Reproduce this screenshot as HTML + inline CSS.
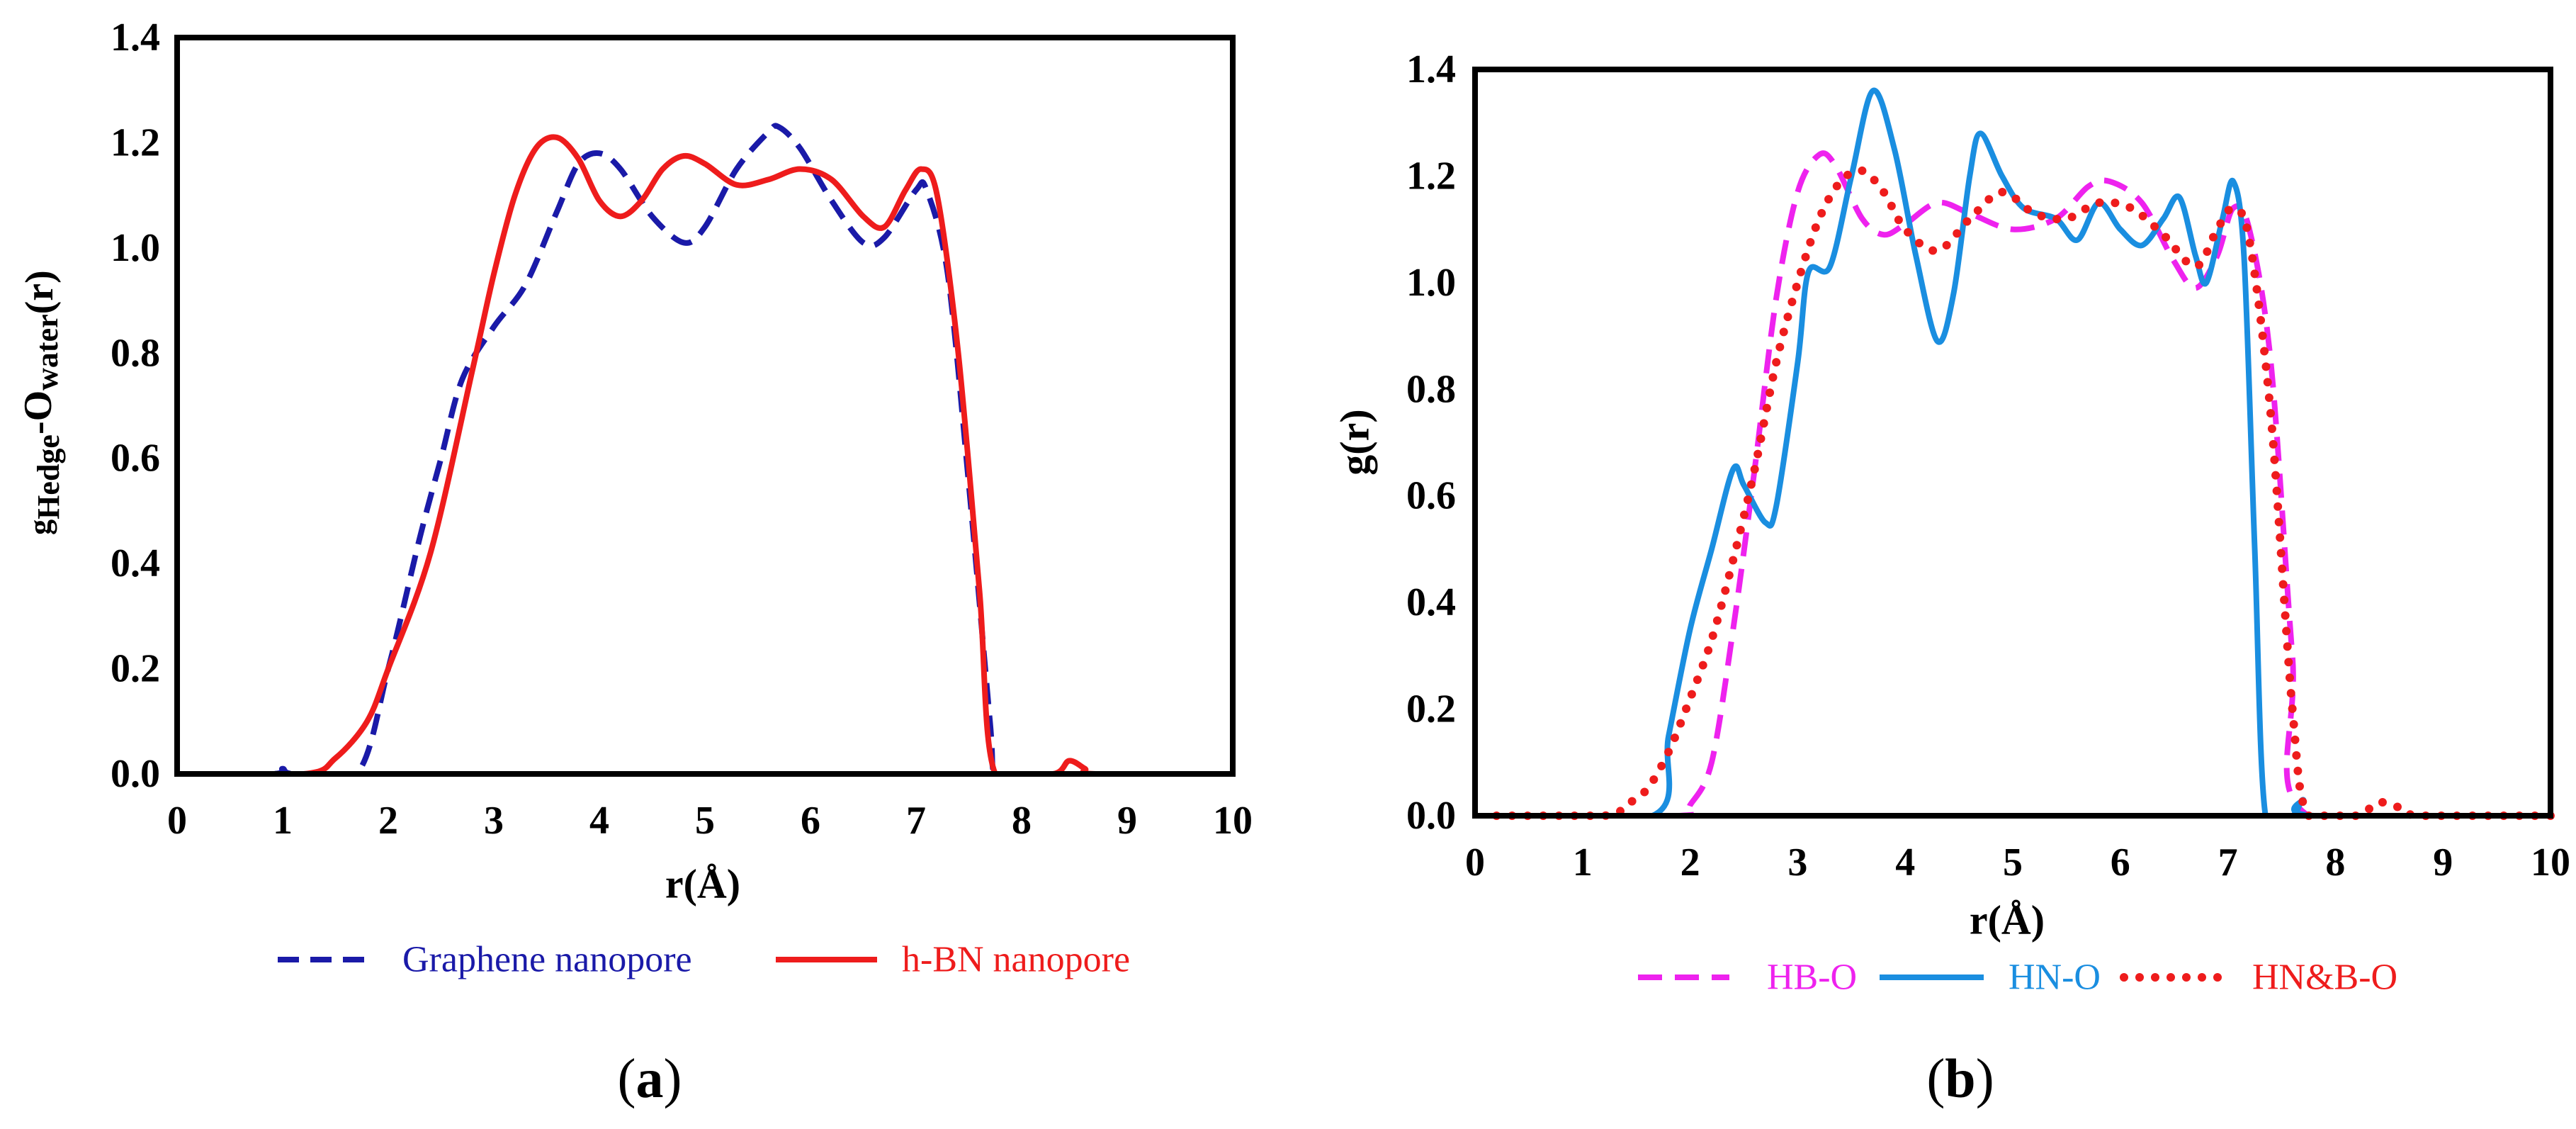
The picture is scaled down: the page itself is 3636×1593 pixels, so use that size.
<!DOCTYPE html>
<html><head><meta charset="utf-8"><style>
html,body{margin:0;padding:0;background:#fff;}
svg{display:block;font-family:"Liberation Serif",serif;}
</style></head><body>
<svg id="fig" width="3636" height="1593" viewBox="0 0 3636 1593" xmlns="http://www.w3.org/2000/svg"></svg>
<script>
const xTicks=[0,1,2,3,4,5,6,7,8,9,10];
const yTicks=[0.0,0.2,0.4,0.6,0.8,1.0,1.2,1.4];
const grapheneX=[0,0.9,1.0,1.1,1.7,2.0,2.3,2.5,2.7,3.0,3.3,3.6,3.8,4.0,4.2,4.5,4.8,5.0,5.3,5.6,5.7,5.9,6.2,6.5,6.7,7.0,7.1,7.3,7.5,7.7,7.75,8,10];
const grapheneY=[0,0,0.01,0,0,0.2,0.45,0.6,0.75,0.85,0.93,1.07,1.16,1.18,1.15,1.06,1.01,1.04,1.15,1.22,1.23,1.19,1.09,1.01,1.02,1.11,1.11,0.95,0.55,0.1,0,0,0];
const hbnX=[0,1.2,1.5,1.8,2.0,2.4,2.8,3.0,3.2,3.4,3.6,3.8,4.0,4.2,4.4,4.6,4.8,5.0,5.3,5.6,5.9,6.2,6.5,6.7,6.9,7.05,7.2,7.4,7.6,7.75,8.3,8.45,8.6,8.7,10];
const hbnY=[0,0,0.03,0.1,0.2,0.42,0.77,0.95,1.1,1.19,1.21,1.17,1.09,1.06,1.09,1.15,1.175,1.16,1.12,1.13,1.15,1.13,1.06,1.04,1.11,1.15,1.1,0.8,0.35,0,0,0.025,0.01,0,0];
const hboX=[0.1,1.9,2.0,2.2,2.4,2.6,2.8,3.0,3.2,3.35,3.6,3.8,4.0,4.3,4.6,5.0,5.4,5.7,5.9,6.2,6.5,6.7,6.9,7.05,7.2,7.4,7.6,7.75,10];
const hboY=[0,0,0.02,0.1,0.35,0.65,0.97,1.17,1.24,1.22,1.12,1.09,1.11,1.15,1.13,1.10,1.12,1.18,1.19,1.15,1.04,0.99,1.05,1.14,1.1,0.85,0.3,0,0];
const hnoX=[0.1,1.65,1.8,2.0,2.2,2.4,2.5,2.7,2.8,3.0,3.1,3.3,3.5,3.7,3.9,4.1,4.3,4.45,4.6,4.7,4.9,5.1,5.4,5.6,5.8,6.0,6.2,6.4,6.55,6.7,6.8,6.95,7.05,7.15,7.25,7.35,7.6,7.7,7.8,10];
const hnoY=[0,0,0.15,0.35,0.5,0.65,0.62,0.55,0.58,0.85,1.02,1.03,1.2,1.36,1.25,1.05,0.89,0.98,1.2,1.28,1.2,1.14,1.12,1.08,1.15,1.1,1.07,1.12,1.16,1.05,1.0,1.12,1.19,1.05,0.5,0,0,0.03,0,0];
const hnbX=[0.2,1.2,1.4,1.6,1.8,2.0,2.2,2.4,2.6,2.8,3.0,3.2,3.4,3.6,3.8,4.0,4.3,4.6,4.9,5.2,5.5,5.8,6.1,6.4,6.7,6.9,7.05,7.2,7.4,7.6,7.75,8.2,8.4,8.6,8.8,10];
const hnbY=[0,0,0.02,0.05,0.12,0.22,0.33,0.48,0.65,0.85,1.0,1.12,1.19,1.21,1.17,1.1,1.06,1.12,1.17,1.13,1.12,1.15,1.14,1.09,1.03,1.1,1.14,1.08,0.75,0.2,0,0,0.025,0.015,0,0];

const NS="http://www.w3.org/2000/svg";
const svg=document.getElementById('fig');
function mk(tag,attrs,parent){const e=document.createElementNS(NS,tag);for(const k in attrs)e.setAttribute(k,attrs[k]);(parent||svg).appendChild(e);return e;}
function axes(L,R,T,B){return {x:v=>L+(R-L)*v/10,y:v=>B-(B-T)*v/1.4};}
function smooth(xs,ys,ax){
  const p=xs.map((x,i)=>[ax.x(x),ax.y(ys[i])]);
  let d='M'+p[0][0]+','+p[0][1];
  for(let i=0;i<p.length-1;i++){
    const p0=p[i-1]||p[i],p1=p[i],p2=p[i+1],p3=p[i+2]||p2;
    const t=0.16;
    let c1y=p1[1]+(p2[1]-p0[1])*t, c2y=p2[1]-(p3[1]-p1[1])*t;
    const lo=ax.y(0);c1y=Math.min(c1y,lo);c2y=Math.min(c2y,lo);
    d+=' C'+(p1[0]+(p2[0]-p0[0])*t)+','+c1y+' '+(p2[0]-(p3[0]-p1[0])*t)+','+c2y+' '+p2[0]+','+p2[1];
  }
  return d;
}
function frame(g,L,R,T,B,ax,lblRight,xlY){
  const f=mk('rect',{x:L,y:T,width:R-L,height:B-T,fill:'none',stroke:'#000','stroke-width':8},g);
  
  
  xTicks.forEach(v=>{const t=mk('text',{x:ax.x(v),y:xlY,'font-size':56,'font-weight':'bold','text-anchor':'middle','dominant-baseline':'central'},g);t.textContent=v;
    
    });
  yTicks.forEach(v=>{const t=mk('text',{x:lblRight,y:ax.y(v),'font-size':56,'font-weight':'bold','text-anchor':'end','dominant-baseline':'central'},g);t.textContent=v.toFixed(1);
    
    });
}
function series(g,xs,ys,ax,style,name){
  const p=mk('path',Object.assign({d:smooth(xs,ys,ax),fill:'none','stroke-width':8,'stroke-linejoin':'round'},style),g);
  
  
}
function txt(g,x,y,s,attrs,name){const t=mk('text',Object.assign({x:x,y:y},attrs),g);t.textContent=s;
  
  return t;}

// Panel a
const ga=mk('g',{});


const axA=axes(250,1740,53,1092);
series(ga,grapheneX,grapheneY,axA,{stroke:'#1a1aa8','stroke-dasharray':'30 16'},'graphene-line');
series(ga,hbnX,hbnY,axA,{stroke:'#ee1c1c'},'hbn-line');
frame(ga,250,1740,53,1092,axA,226,1158);
txt(ga,992,1247,'r(Å)',{'font-size':58,'font-weight':'bold','text-anchor':'middle','dominant-baseline':'central'},'x-axis-title');
const yt=mk('text',{transform:'translate(66,568) rotate(-90)','font-size':56,'font-weight':'bold','text-anchor':'middle','dominant-baseline':'central'},ga);


yt.innerHTML='<tspan font-size="44" dy="-10">g</tspan><tspan font-size="44" dy="12">Hedge</tspan><tspan dy="-14">-O</tspan><tspan font-size="44" dy="12">water</tspan><tspan dy="-10">(r)</tspan>';
mk('line',{x1:392,y1:1354,x2:516,y2:1354,stroke:'#1a1aa8','stroke-width':8,'stroke-dasharray':'30 16'},ga);
txt(ga,568,1354,'Graphene nanopore',{'font-size':52,fill:'#1a1aa8','dominant-baseline':'central'},'legend-graphene');
mk('line',{x1:1095,y1:1354,x2:1238,y2:1354,stroke:'#ee1c1c','stroke-width':8},ga);
txt(ga,1273,1354,'h-BN nanopore',{'font-size':52,fill:'#ee1c1c','dominant-baseline':'central'},'legend-hbn');
const la=mk('text',{x:917,y:1521,'font-size':78,'text-anchor':'middle','dominant-baseline':'central'},ga);


la.innerHTML='(<tspan font-weight="bold">a</tspan>)';

// Panel b
const gb=mk('g',{});


const axB=axes(2082,3600,98,1151);
series(gb,hboX,hboY,axB,{stroke:'#ee22ee','stroke-dasharray':'34 18'},'hb-o-line');
series(gb,hnoX,hnoY,axB,{stroke:'#1a8ee0'},'hn-o-line');
series(gb,hnbX,hnbY,axB,{stroke:'#ee1c1c','stroke-width':12,'stroke-dasharray':'0 22','stroke-linecap':'round'},'hnb-o-line');
frame(gb,2082,3600,98,1151,axB,2055,1217);
txt(gb,2833,1298,'r(Å)',{'font-size':58,'font-weight':'bold','text-anchor':'middle','dominant-baseline':'central'},'x-axis-title');
txt(gb,0,0,'g(r)',{transform:'translate(1912,624) rotate(-90)','font-size':58,'font-weight':'bold','text-anchor':'middle','dominant-baseline':'central'},'y-axis-title');
mk('line',{x1:2312,y1:1379,x2:2441,y2:1379,stroke:'#ee22ee','stroke-width':8,'stroke-dasharray':'34 18'},gb);
txt(gb,2494,1379,'HB-O',{'font-size':52,fill:'#ee22ee','dominant-baseline':'central'},'legend-hb-o');
mk('line',{x1:2653,y1:1379,x2:2800,y2:1379,stroke:'#1a8ee0','stroke-width':8},gb);
txt(gb,2835,1379,'HN-O',{'font-size':52,fill:'#1a8ee0','dominant-baseline':'central'},'legend-hn-o');
mk('line',{x1:2998,y1:1379,x2:3141,y2:1379,stroke:'#ee1c1c','stroke-width':12,'stroke-dasharray':'0 22','stroke-linecap':'round'},gb);
txt(gb,3179,1379,'HN&B-O',{'font-size':52,fill:'#ee1c1c','dominant-baseline':'central'},'legend-hnb-o');
const lb=mk('text',{x:2767,y:1521,'font-size':78,'text-anchor':'middle','dominant-baseline':'central'},gb);


lb.innerHTML='(<tspan font-weight="bold">b</tspan>)';
</script>
</body></html>
